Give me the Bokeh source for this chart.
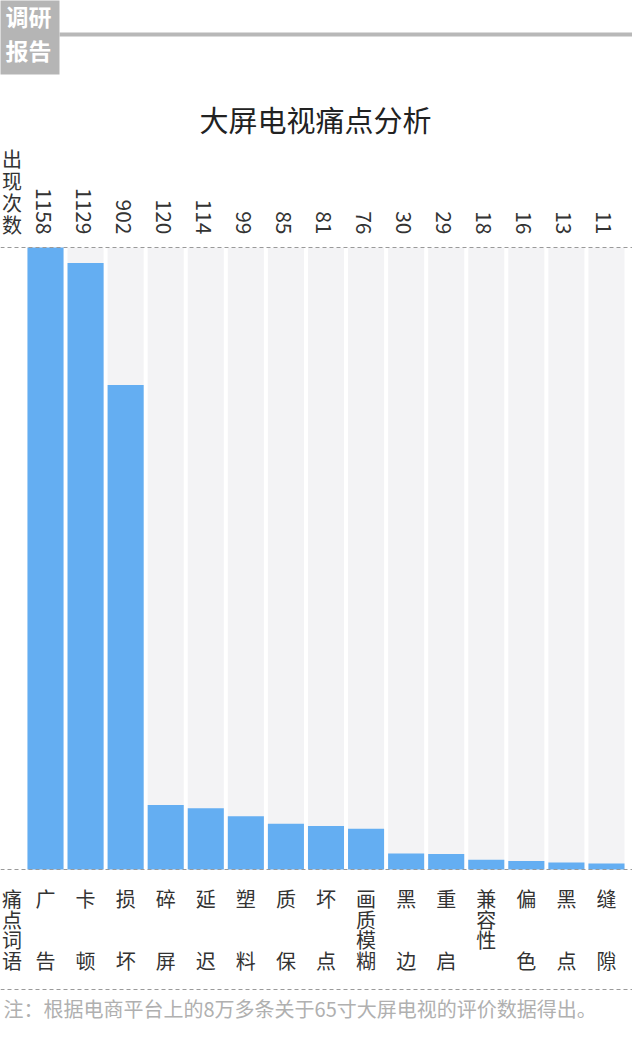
import math
from bokeh.plotting import figure
from bokeh.models import Range1d, ColumnDataSource, Span
from bokeh.core.properties import value
from bokeh.embed import file_html
from bokeh.resources import INLINE

# ---- data ----
categories = ["广告", "卡顿", "损坏", "碎屏", "延迟", "塑料", "质保", "坏点",
              "画质模糊", "黑边", "重启", "兼容性", "偏色", "黑点", "缝隙"]
counts = [1158, 1129, 902, 120, 114, 99, 85, 81, 76, 30, 29, 18, 16, 13, 11]
title_text = "大屏电视痛点分析"
value_axis_label = "出现次数"
category_axis_label = "痛点词语"
note_text = "注：根据电商平台上的8万多条关于65寸大屏电视的评价数据得出。"
logo_lines = ["调研", "报告"]

CJK = "Noto Sans CJK SC"

# ---- layout helpers (reference pixel -> data coords) ----
COL0 = 53.0      # centre of first column (px)
PITCH = 40.07    # column pitch (px)
BASE = 877.0     # baseline (px)
TOPLINE = 255.0  # px where the max value sits
UNIT = max(counts) / (BASE - TOPLINE)


def X(px):
    return (px - COL0) / PITCH


def Y(py):
    return (BASE - py) * UNIT


W, H = 632, 1031
p = figure(width=W, height=H, output_backend="svg", toolbar_location=None,
           x_range=Range1d(X(8), X(640)), y_range=Range1d(Y(1039), Y(8)),
           min_border=0, outline_line_color=None, background_fill_color="white",
           border_fill_color="white")
p.axis.visible = False
p.grid.visible = False

idx = list(range(len(categories)))
src = ColumnDataSource(dict(x=idx, count=counts, label=[str(c) for c in counts],
                            full=[max(counts)] * len(counts)))

# background columns
p.vbar(x="x", top="full", bottom=0, width=0.9, source=src,
       fill_color="#f3f3f5", line_color=None)
# bars
p.vbar(x="x", top="count", bottom=0, width=0.9, source=src,
       fill_color="#64aef2", line_color=None)

# value labels (rotated, reading top to bottom)
p.text(x="x", y=Y(242), text="label", source=src, angle=-math.pi / 2,
       text_align="right", text_baseline="middle", text_font_size="21px",
       text_font=value(CJK), text_color="#333333", x_offset=-2)

# category labels, character by character
cx, cy, ct = [], [], []
ROW0, ROWP = 906.0, 20.5
for i, lab in enumerate(categories):
    rows = [0, 3] if len(lab) == 2 else list(range(len(lab)))
    for ch, r in zip(lab, rows):
        cx.append(i)
        cy.append(Y(ROW0 + r * ROWP))
        ct.append(ch)
p.text(x=cx, y=cy, text=ct, text_align="center", text_baseline="middle",
       text_font_size="20px", text_font=value(CJK), text_color="#333333")

# vertical side labels
p.text(x=[X(19.5)] * 4, y=[Y(166 + r * 22) for r in range(4)], text=list(value_axis_label),
       text_align="center", text_baseline="middle", text_font_size="20px",
       text_font=value(CJK), text_color="#333333")
p.text(x=[X(19.5)] * 4, y=[Y(ROW0 + r * ROWP) for r in range(4)], text=list(category_axis_label),
       text_align="center", text_baseline="middle", text_font_size="20px",
       text_font=value(CJK), text_color="#333333")

# dashed guide lines
for py in (TOPLINE, BASE, 997):
    p.add_layout(Span(location=Y(py), dimension="width", line_color="#9a9a9a",
                      line_width=1, line_dash="4 3"))

# header
p.quad(left=X(0), right=X(67), top=Y(0), bottom=Y(82), fill_color="#b5b5b5", line_color=None)
p.segment(x0=X(67), x1=X(640), y0=Y(42), y1=Y(42), line_color="#b8b8b8", line_width=4)
p.text(x=[X(36), X(36)], y=[Y(23), Y(57)], text=logo_lines, text_align="center",
       text_baseline="middle", text_font_size="23px", text_font_style="bold",
       text_font=value(CJK), text_color="white")

# title
p.text(x=[X(323)], y=[Y(126)], text=[title_text], text_align="center", text_baseline="middle",
       text_font_size="29px", text_font=value(CJK), text_color="#222222")

# footnote
p.text(x=[X(11)], y=[Y(1016)], text=[note_text], text_align="left", text_baseline="middle",
       text_font_size="20px", text_font=value(CJK), text_color="#b0b0b0")

open("out.html", "w").write(file_html(p, INLINE))
